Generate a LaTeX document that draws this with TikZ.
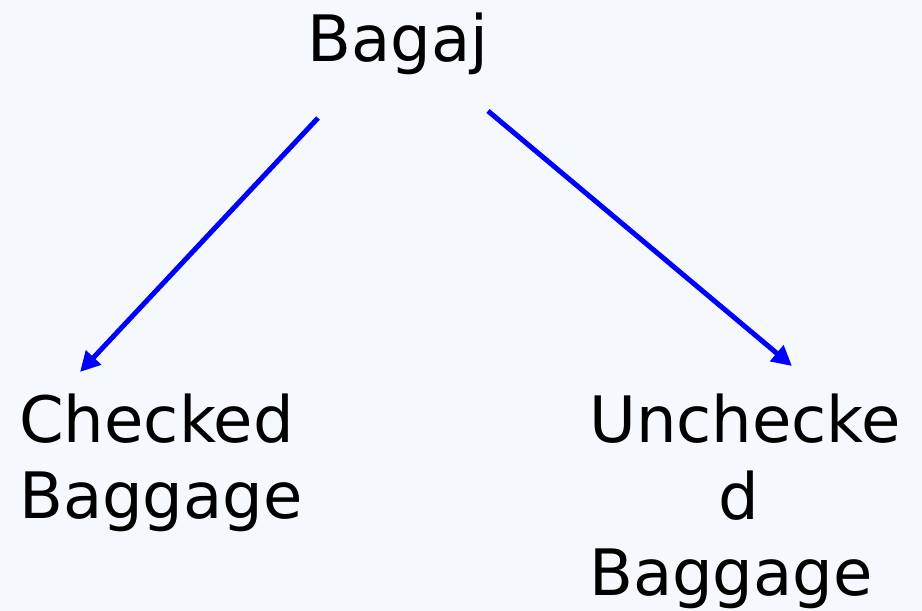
\documentclass[tikz,border=0pt]{standalone}
\usepackage{fontspec}
\setmainfont{DejaVu Sans}
\usetikzlibrary{arrows.meta}
\definecolor{bgpale}{RGB}{245,249,253}
\definecolor{linkblue}{RGB}{0,0,255}
\tikzset{
  label/.style={inner sep=0pt, font=\fontsize{64}{77}\selectfont, text=black},
  link/.style={draw=linkblue, line width=5pt, -{Triangle[length=20pt,width=20pt]}}
}
\begin{document}
\begin{tikzpicture}[x=1pt,y=1pt]
  % canvas
  \fill[bgpale] (0,0) rectangle (922,611);
  \useasboundingbox (0,0) rectangle (922,611);
  % labels (base anchor sits on the last line)
  \node[label, anchor=base] (top) at (398,549) {Bagaj};
  \node[label, anchor=base west, align=left] (checked) at (19,92) {Checked\\Baggage};
  \node[label, anchor=base west, align=left] (unchecked) at (589,15)
    {Unchecke\\\hspace*{129pt}d\\Baggage};
  % arrow ends
  \coordinate (l0) at (318,493);
  \coordinate (l1) at (80,239);
  \coordinate (r0) at (488,500);
  \coordinate (r1) at (792,245);
  \draw[link] (l0) -- (l1);
  \draw[link] (r0) -- (r1);
\end{tikzpicture}
\end{document}
